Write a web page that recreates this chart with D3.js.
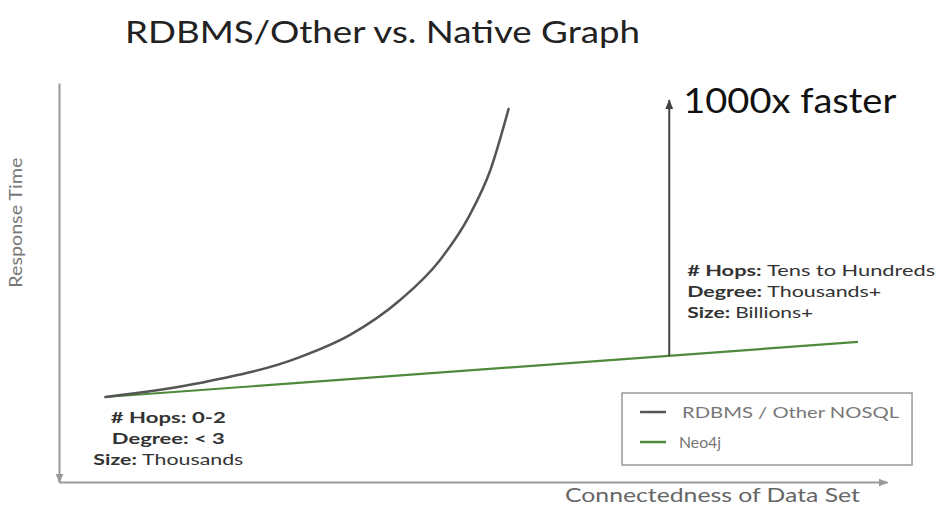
<!DOCTYPE html>
<html>
<head>
<meta charset="utf-8">
<script src="https://cdn.jsdelivr.net/npm/d3@7"></script>
<style>
  body { margin: 0; background: #fff; }
  svg { display: block; font-family: Lato, "Open Sans", sans-serif; }
</style>
</head>
<body>
<div id="chart"></div>
<script>
// Values (x = connectedness, y = response time, arbitrary units)
var rdbmsX = [0.56, 1.70, 2.91, 3.51, 4.12, 4.60, 4.96, 5.21, 5.43];
var rdbmsY = [21.3, 24.8, 31.3, 36.8, 45.6, 55.6, 66.9, 78.2, 93.5];
var neoX = [0.56, 9.65];
var neoY = [21.3, 35.1];
var gapX = 7.37;          // where the "1000x faster" arrow stands
var gapTopY = 95.7;

var seriesNames = ["RDBMS / Other NOSQL", "Neo4j"];
var seriesColors = ["#555555", "#4f8a3c"];

var leftNotes = [["# Hops: ", "0-2"], ["Degree: ", "< 3"], ["Size: ", "Thousands"]];
var rightNotes = [["# Hops: ", "Tens to Hundreds"], ["Degree: ", "Thousands+"], ["Size: ", "Billions+"]];

var W = 939, H = 506;
var margin = {top: 83, right: 52, bottom: 24, left: 59};
var width = W - margin.left - margin.right;
var height = H - margin.top - margin.bottom;

var svg = d3.select("#chart").append("svg")
            .attr("width", W)
            .attr("height", H);

var defs = svg.append("defs");
defs.append("marker")
    .attr("id", "axisHead")
    .attr("viewBox", "0 0 10 10")
    .attr("refX", 9).attr("refY", 5)
    .attr("markerWidth", 5).attr("markerHeight", 5)
    .attr("orient", "auto-start-reverse")
    .append("path")
        .attr("d", "M0,1 L10,5 L0,9 Z")
        .attr("fill", "#999");
defs.append("marker")
    .attr("id", "gapHead")
    .attr("viewBox", "0 0 10 10")
    .attr("refX", 9).attr("refY", 5)
    .attr("markerWidth", 5).attr("markerHeight", 5)
    .attr("orient", "auto")
    .append("path")
        .attr("d", "M0,1 L10,5 L0,9 Z")
        .attr("fill", "#444");

var g = svg.append("g")
           .attr("transform", "translate(" + margin.left + "," + margin.top + ")");

// scales
var x = d3.scaleLinear().domain([0, 10]).range([0, width]);
var y = d3.scaleLinear().domain([0, 100]).range([height, 0]);

// Title
svg.append("text")
    .attr("x", 125)
    .attr("y", 43)
    .attr("font-size", 31)
    .attr("fill", "#222")
    .attr("textLength", 515)
    .attr("lengthAdjust", "spacingAndGlyphs")
    .text("RDBMS/Other vs. Native Graph");

// Axes (no ticks, only arrowed domain lines)
var xAxisG = g.append("g")
    .attr("transform", "translate(0," + height + ")")
    .call(d3.axisBottom(x).ticks(0).tickSizeOuter(0));
var yAxisG = g.append("g")
    .call(d3.axisLeft(y).ticks(0).tickSizeOuter(0));
[xAxisG, yAxisG].forEach(function(a) {
    a.select(".domain")
        .attr("stroke", "#999")
        .attr("stroke-width", 2);
});
xAxisG.select(".domain").attr("marker-end", "url(#axisHead)");
yAxisG.select(".domain").attr("marker-start", "url(#axisHead)");

g.append("text")
    .attr("x", width - 27)
    .attr("y", height + 20)
    .attr("text-anchor", "end")
    .attr("font-size", 19)
    .attr("fill", "#666")
    .attr("textLength", 295)
    .attr("lengthAdjust", "spacingAndGlyphs")
    .text("Connectedness of Data Set");

g.append("text")
    .attr("transform", "translate(" + (-37) + "," + (y(65) + 65) + ") rotate(-90)")
    .attr("font-size", 17)
    .attr("fill", "#777")
    .attr("textLength", 130)
    .attr("lengthAdjust", "spacingAndGlyphs")
    .text("Response Time");

// Lines
var line = d3.line()
    .x(function(d) { return x(d[0]); })
    .y(function(d) { return y(d[1]); });

var rdbmsPts = d3.zip(rdbmsX, rdbmsY);
var neoPts = d3.zip(neoX, neoY);

g.append("path")
    .datum(neoPts)
    .attr("fill", "none")
    .attr("stroke", seriesColors[1])
    .attr("stroke-width", 2.2)
    .attr("d", line);

g.append("path")
    .datum(rdbmsPts)
    .attr("fill", "none")
    .attr("stroke", seriesColors[0])
    .attr("stroke-width", 2.5)
    .attr("stroke-linecap", "round")
    .attr("d", line.curve(d3.curveMonotoneX));

// "1000x faster" arrow, standing on the Neo4j line
var neoAtGap = d3.scaleLinear().domain(neoX).range(neoY)(gapX);
g.append("line")
    .attr("x1", x(gapX)).attr("x2", x(gapX))
    .attr("y1", y(neoAtGap)).attr("y2", y(gapTopY))
    .attr("stroke", "#444")
    .attr("stroke-width", 2)
    .attr("marker-end", "url(#gapHead)");

g.append("text")
    .attr("x", x(gapX) + 14)
    .attr("y", y(gapTopY) + 13)
    .attr("font-size", 34)
    .attr("font-family", "Lato")
    .attr("fill", "#111")
    .attr("textLength", 213)
    .attr("lengthAdjust", "spacingAndGlyphs")
    .text("1000x faster");

// notes
var leftWidths = [115, 113, 150];
var rightWidths = [248, 194, 126];

leftNotes.forEach(function(n, i) {
    var t = g.append("text")
        .attr("x", x(neoX[0]) + 63)
        .attr("y", y(neoY[0]) + 26 + i * 21)
        .attr("text-anchor", "middle")
        .attr("font-size", 15)
        .attr("fill", "#333")
        .attr("textLength", leftWidths[i])
        .attr("lengthAdjust", "spacingAndGlyphs");
    t.append("tspan").attr("font-weight", "bold").text(n[0]);
    t.append("tspan").attr("font-weight", i == 2 ? "normal" : "bold").text(n[1]);
});

rightNotes.forEach(function(n, i) {
    var t = g.append("text")
        .attr("x", x(gapX) + 18)
        .attr("y", y(neoAtGap) - 80 + i * 21)
        .attr("font-size", 15)
        .attr("fill", "#333")
        .attr("textLength", rightWidths[i])
        .attr("lengthAdjust", "spacingAndGlyphs");
    t.append("tspan").attr("font-weight", "bold").text(n[0]);
    t.append("tspan").text(n[1]);
});

// Legend
var legend = g.append("g")
    .attr("transform", "translate(" + (x(6.8)) + "," + (y(22.3)) + ")");
legend.append("rect")
    .attr("width", 290)
    .attr("height", 72)
    .attr("fill", "#fff")
    .attr("stroke", "#999")
    .attr("stroke-width", 1.5);
legend.selectAll("line.key")
    .data(seriesNames)
    .enter().append("line")
        .attr("x1", 18).attr("x2", 44)
        .attr("y1", function(d, i) { return 19 + i * 30; })
        .attr("y2", function(d, i) { return 19 + i * 30; })
        .attr("stroke", function(d, i) { return seriesColors[i]; })
        .attr("stroke-width", 2.5);
legend.selectAll("text.key")
    .data(seriesNames)
    .enter().append("text")
        .attr("x", function(d, i) { return i == 0 ? 60 : 57; })
        .attr("y", function(d, i) { return 19 + i * 30; })
        .attr("dy", "0.35em")
        .attr("font-size", 16)
        .attr("fill", "#777")
        .attr("textLength", function(d, i) { return i == 0 ? 217 : 42; })
        .attr("lengthAdjust", "spacingAndGlyphs")
        .text(function(d) { return d; });
</script>
</body>
</html>
